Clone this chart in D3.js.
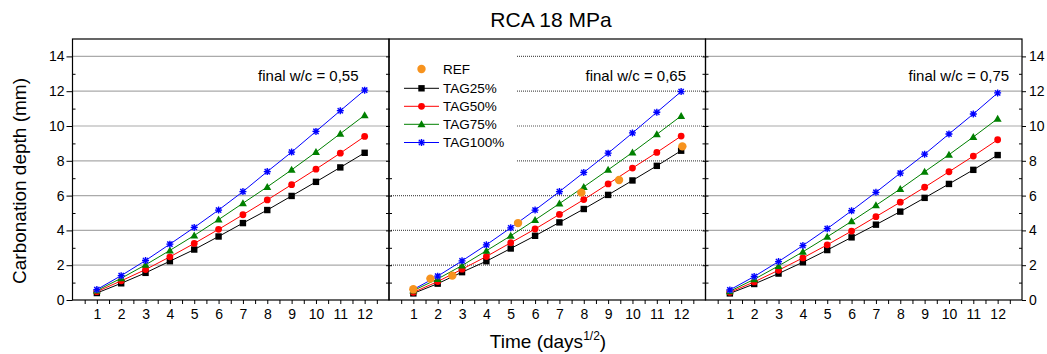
<!DOCTYPE html>
<html>
<head>
<meta charset="utf-8">
<script src="https://cdn.jsdelivr.net/npm/d3@7"></script>
<style>
  body { margin: 0; background: #fff; }
  text { font-family: "Liberation Sans", Arial, sans-serif; fill: #000; }
</style>
</head>
<body>
<svg id="chart" width="1047" height="354"></svg>
<script>
// time axis (days^1/2)
const days = [1, 2, 3, 4, 5, 6, 7, 8, 9, 10, 11, 12];

// final w/c = 0,55
const tag25_055  = [0.40, 0.96, 1.56, 2.23, 2.90, 3.65, 4.42, 5.17, 5.98, 6.79, 7.62, 8.46];
const tag50_055  = [0.48, 1.10, 1.75, 2.48, 3.25, 4.06, 4.90, 5.75, 6.63, 7.52, 8.44, 9.40];
const tag75_055  = [0.54, 1.25, 2.02, 2.85, 3.71, 4.62, 5.56, 6.50, 7.48, 8.50, 9.56, 10.62];
const tag100_055 = [0.60, 1.40, 2.27, 3.21, 4.17, 5.17, 6.23, 7.38, 8.50, 9.69, 10.88, 12.06];

// final w/c = 0,65
const tag25_065  = [0.38, 0.94, 1.60, 2.23, 2.96, 3.69, 4.46, 5.23, 6.04, 6.87, 7.71, 8.58];
const tag50_065  = [0.44, 1.06, 1.77, 2.50, 3.29, 4.08, 4.92, 5.77, 6.67, 7.58, 8.48, 9.42];
const tag75_065  = [0.54, 1.21, 1.98, 2.83, 3.69, 4.60, 5.54, 6.50, 7.48, 8.48, 9.52, 10.58];
const tag100_065 = [0.60, 1.37, 2.25, 3.17, 4.15, 5.17, 6.23, 7.33, 8.44, 9.60, 10.79, 11.98];
const refTime  = [1.0, 1.7, 2.6, 5.3, 7.9, 9.45, 12.05];
const refDepth = [0.62, 1.23, 1.40, 4.42, 6.17, 6.90, 8.83];

// final w/c = 0,75
const tag25_075  = [0.38, 0.92, 1.52, 2.17, 2.87, 3.60, 4.33, 5.08, 5.87, 6.67, 7.48, 8.33];
const tag50_075  = [0.44, 1.04, 1.71, 2.42, 3.17, 3.96, 4.79, 5.62, 6.48, 7.37, 8.27, 9.21];
const tag75_075  = [0.50, 1.19, 1.96, 2.77, 3.63, 4.52, 5.44, 6.38, 7.37, 8.35, 9.37, 10.42];
const tag100_075 = [0.58, 1.35, 2.21, 3.13, 4.10, 5.13, 6.19, 7.29, 8.38, 9.54, 10.69, 11.90];

const panelLabels = ["final w/c = 0,55", "final w/c = 0,65", "final w/c = 0,75"];
const seriesNames = ["TAG25%", "TAG50%", "TAG75%", "TAG100%"];
const yMajor = [0, 2, 4, 6, 8, 10, 12, 14];
const yMinor = [1, 3, 5, 7, 9, 11, 13];
const xMinor = [0.5, 1.5, 2.5, 3.5, 4.5, 5.5, 6.5, 7.5, 8.5, 9.5, 10.5, 11.5, 12.5];

const panels = [
  { label: panelLabels[0], labelAt: 11.75, series: [tag25_055, tag50_055, tag75_055, tag100_055] },
  { label: panelLabels[1], labelAt: 12.2,  series: [tag25_065, tag50_065, tag75_065, tag100_065], ref: true, legend: true },
  { label: panelLabels[2], labelAt: 12.47, series: [tag25_075, tag50_075, tag75_075, tag100_075] }
];

const colors = ["#000000", "#ff0000", "#008000", "#0000ff"];
const refColor = "#f7931e";

const svg = d3.select("#chart");
const plotTop = 39, plotBottom = 300, left0 = 72.5, pw = 316.5;

const y = d3.scaleLinear().domain([0, 15]).range([plotBottom, plotTop]);

function marker(sel, k, color) {
  if (k === 0) {
    sel.append("rect").attr("x", -3.2).attr("y", -3.2).attr("width", 6.4).attr("height", 6.4).attr("fill", color);
  } else if (k === 1) {
    sel.append("circle").attr("r", 3.4).attr("fill", color);
  } else if (k === 2) {
    sel.append("path").attr("d", "M0,-4L4,3L-4,3Z").attr("fill", color);
  } else {
    sel.append("rect").attr("x", -3).attr("y", -3).attr("width", 6).attr("height", 6)
      .attr("fill", "#9fa8ff").attr("fill-opacity", 0.5);
    sel.append("path").attr("d", "M-3.5,0H3.5M0,-3.5V3.5M-2.6,-2.6L2.6,2.6M-2.6,2.6L2.6,-2.6")
      .attr("stroke", color).attr("stroke-width", 1.3).attr("fill", "none");
  }
}

panels.forEach((p, i) => {
  const x0 = left0 + i * pw;
  const x = d3.scaleLinear().domain([0, 13]).range([x0, x0 + pw]);
  const g = svg.append("g");

  // dotted grid
  g.selectAll("line.grid").data(yMajor.slice(1)).join("line")
    .attr("x1", x(0)).attr("x2", x(13))
    .attr("y1", d => y(d)).attr("y2", d => y(d))
    .attr("stroke", "#555").attr("stroke-width", 1.2).attr("stroke-dasharray", "1,1");

  // x axis ticks
  const xa = g.append("g").attr("transform", `translate(0,${plotBottom})`)
    .call(d3.axisBottom(x).tickValues(days).tickSize(4).tickPadding(5));
  g.append("g").attr("transform", `translate(0,${plotBottom})`)
    .call(d3.axisBottom(x).tickValues(xMinor).tickSize(4).tickFormat(""));
  xa.selectAll("text").attr("font-size", 14).attr("font-family", "Liberation Sans, Arial, sans-serif");

  // y ticks on borders
  if (i === 0) {
    const ya = g.append("g").attr("transform", `translate(${x0},0)`)
      .call(d3.axisLeft(y).tickValues(yMajor).tickSize(6).tickPadding(2));
    ya.selectAll("text").attr("font-size", 14).attr("font-family", "Liberation Sans, Arial, sans-serif");
    g.append("g").attr("transform", `translate(${x0 + 3},0)`)
      .call(d3.axisLeft(y).tickValues(yMinor).tickSize(3).tickFormat(""));
  } else {
    g.append("g").attr("transform", `translate(${x0 - 3},0)`)
      .call(d3.axisRight(y).tickValues(yMajor.slice(1)).tickSize(6).tickFormat(""));
    g.append("g").attr("transform", `translate(${x0 - 3},0)`)
      .call(d3.axisRight(y).tickValues(yMinor).tickSize(6).tickFormat(""));
  }
  if (i === 2) {
    const yr = g.append("g").attr("transform", `translate(${x0 + pw},0)`)
      .call(d3.axisRight(y).tickValues(yMajor).tickSize(4).tickPadding(3));
    yr.selectAll("text").attr("font-size", 14).attr("font-family", "Liberation Sans, Arial, sans-serif");
    g.append("g").attr("transform", `translate(${x0 + pw - 3},0)`)
      .call(d3.axisRight(y).tickValues(yMinor).tickSize(3).tickFormat(""));
  }
  g.selectAll(".domain").remove();
  g.selectAll(".tick line").attr("stroke", "#000");

  // legend background hides the grid
  if (p.legend) {
    g.append("rect").attr("x", x0 + 1).attr("y", plotTop + 1).attr("width", 127).attr("height", 124).attr("fill", "#fff");
  }

  // series lines then markers
  const line = d3.line().x((d, j) => x(days[j])).y(d => y(d));
  p.series.forEach((s, k) => {
    g.append("path").attr("d", line(s)).attr("fill", "none").attr("stroke", colors[k]).attr("stroke-width", 1);
  });
  p.series.forEach((s, k) => {
    g.selectAll(null).data(s).join("g")
      .attr("transform", (d, j) => `translate(${x(days[j])},${y(d)})`)
      .each(function () { marker(d3.select(this), k, colors[k]); });
  });

  if (p.ref) {
    g.selectAll("circle.ref").data(refTime).join("circle").attr("class", "ref")
      .attr("cx", d => x(d)).attr("cy", (d, j) => y(refDepth[j]))
      .attr("r", 4.2).attr("fill", refColor);
  }

  // legend
  if (p.legend) {
    const lg = g.append("g").attr("transform", `translate(${x0},0)`);
    const rows = [69, 88.3, 106.3, 124.3, 142.5];
    lg.append("circle").attr("cx", 32.5).attr("cy", rows[0]).attr("r", 4.2).attr("fill", refColor);
    lg.append("text").attr("x", 54).attr("y", rows[0] + 4.8).attr("font-size", 13.5).text("REF");
    seriesNames.forEach((n, k) => {
      const r = lg.append("g").attr("transform", `translate(0,${rows[k + 1]})`);
      r.append("line").attr("x1", 15).attr("x2", 50).attr("stroke", colors[k]).attr("stroke-width", 1);
      const m = r.append("g").attr("transform", "translate(32.5,0)");
      marker(m, k, colors[k]);
      r.append("text").attr("x", 54).attr("y", 4.8).attr("font-size", 13.5).text(n);
    });
  }

  // panel annotation
  g.append("text").attr("x", x(p.labelAt)).attr("y", 80.5).attr("text-anchor", "end")
    .attr("font-size", 15).text(p.label);

  // frame
  g.append("rect").attr("x", x0).attr("y", plotTop).attr("width", pw).attr("height", plotBottom - plotTop)
    .attr("fill", "none").attr("stroke", "#000").attr("stroke-width", 1.2);
});

// titles
svg.append("text").attr("x", 551).attr("y", 27).attr("text-anchor", "middle")
  .attr("font-size", 21).text("RCA 18 MPa");

svg.append("text").attr("transform", "translate(26,181) rotate(-90)").attr("text-anchor", "middle")
  .attr("font-size", 19).text("Carbonation depth (mm)");

const xl = svg.append("text").attr("x", 548).attr("y", 348).attr("text-anchor", "middle").attr("font-size", 19);
xl.append("tspan").text("Time (days");
xl.append("tspan").attr("font-size", 12).attr("dy", -8).text("1/2");
xl.append("tspan").attr("dy", 8).text(")");
</script>
</body>
</html>
